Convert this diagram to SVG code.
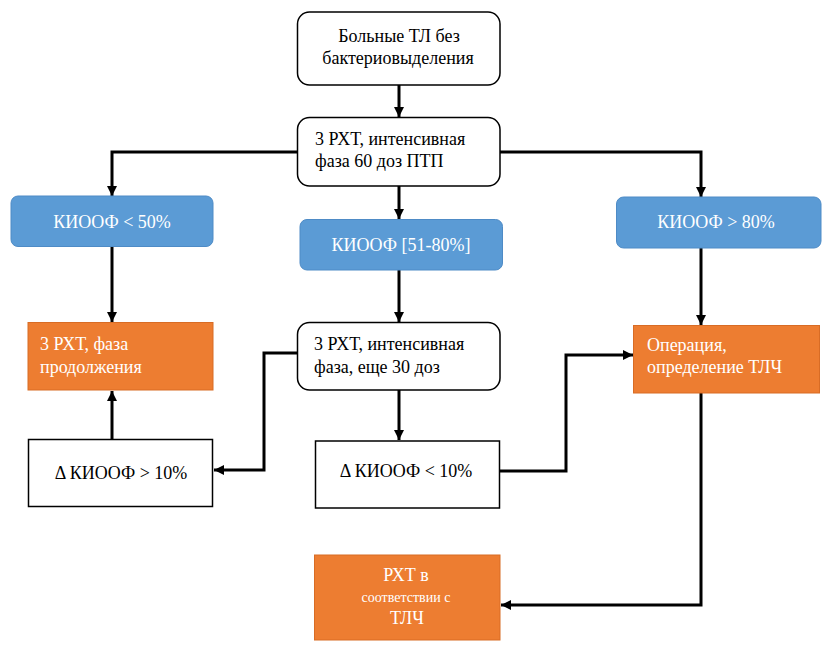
<svg xmlns="http://www.w3.org/2000/svg" width="836" height="661" viewBox="0 0 836 661">
<style>
.t{font-family:"Liberation Serif","Tinos","Noto Serif","Nimbus Roman","FreeSerif","DejaVu Serif","Times New Roman",Times,serif;font-size:18px;fill:#000}
.w{fill:#fff}
.c{text-anchor:middle}
.wb{fill:#fff;stroke:#000;stroke-width:1.5}
.bl{fill:#5B9BD5;stroke:#4E8BC6;stroke-width:1}
.or{fill:#ED7D31;stroke:#D86C25;stroke-width:1}
.ln{fill:none;stroke:#000;stroke-width:3;marker-end:url(#ah)}
</style>
<defs>
<marker id="ah" markerUnits="userSpaceOnUse" markerWidth="11" markerHeight="10" refX="10" refY="5" orient="auto">
<path d="M0,0 L10,5 L0,10 z" fill="#000"/>
</marker>
</defs>
<rect width="836" height="661" fill="#fff"/>
<g id="connectors">
<path class="ln" d="M399,85 V117"/>
<path class="ln" d="M297,152 H112 V196"/>
<path class="ln" d="M500,152 H701 V197"/>
<path class="ln" d="M399,186 V219"/>
<path class="ln" d="M112,247 V322"/>
<path class="ln" d="M399,270 V322"/>
<path class="ln" d="M701,248 V325"/>
<path class="ln" d="M297,353 H264 V470 H214"/>
<path class="ln" d="M112,439 V391"/>
<path class="ln" d="M399,390 V440"/>
<path class="ln" d="M500,471 H566 V355 H633"/>
<path class="ln" d="M701,393 V605 H501"/>
</g>
<g id="n1">
<rect class="wb" x="297.5" y="12" width="202.5" height="73" rx="12"/>
<text class="t c" x="399" y="42">Больные ТЛ без</text>
<text class="t c" x="398" y="64">бактериовыделения</text>
</g>
<g id="n2">
<rect class="wb" x="297.5" y="117.5" width="202.5" height="68.5" rx="12"/>
<text class="t" x="315" y="145">3 РХТ, интенсивная</text>
<text class="t" x="315" y="167">фаза 60 доз ПТП</text>
</g>
<g id="n3">
<rect class="bl" x="11" y="196" width="202" height="50.5" rx="7"/>
<text class="t w c" x="112" y="228">КИООФ &lt; 50%</text>
</g>
<g id="n4">
<rect class="bl" x="300" y="219.5" width="202.5" height="50.5" rx="7"/>
<text class="t w c" x="401" y="251">КИООФ [51-80%]</text>
</g>
<g id="n5">
<rect class="bl" x="616.5" y="197" width="204.5" height="51" rx="7"/>
<text class="t w c" x="716" y="228">КИООФ &gt; 80%</text>
</g>
<g id="n6">
<rect class="or" x="28" y="322.5" width="185" height="67.5"/>
<text class="t w" x="40" y="350">3 РХТ, фаза</text>
<text class="t w" x="40" y="373">продолжения</text>
</g>
<g id="n7">
<rect class="wb" x="297.5" y="322.5" width="202.5" height="67.5" rx="12"/>
<text class="t" x="314" y="350">3 РХТ, интенсивная</text>
<text class="t" x="314" y="373">фаза, еще 30 доз</text>
</g>
<g id="n8">
<rect class="or" x="633.5" y="325.5" width="186" height="67.5"/>
<text class="t w" x="647" y="351">Операция,</text>
<text class="t w" x="647" y="373">определение ТЛЧ</text>
</g>
<g id="n9">
<rect class="wb" x="28.5" y="439.5" width="184" height="67"/>
<text class="t c" x="121" y="479">Δ КИООФ &gt; 10%</text>
</g>
<g id="n10">
<rect class="wb" x="315.5" y="441" width="184" height="67"/>
<text class="t c" x="406" y="477">Δ КИООФ &lt; 10%</text>
</g>
<g id="n11">
<rect class="or" x="314.5" y="555" width="185.5" height="85"/>
<text class="t w c" x="406" y="581">РХТ в</text>
<text class="t w c" x="406" y="602" style="font-size:14px">соответствии с</text>
<text class="t w c" x="407" y="624">ТЛЧ</text>
</g>
</svg>
